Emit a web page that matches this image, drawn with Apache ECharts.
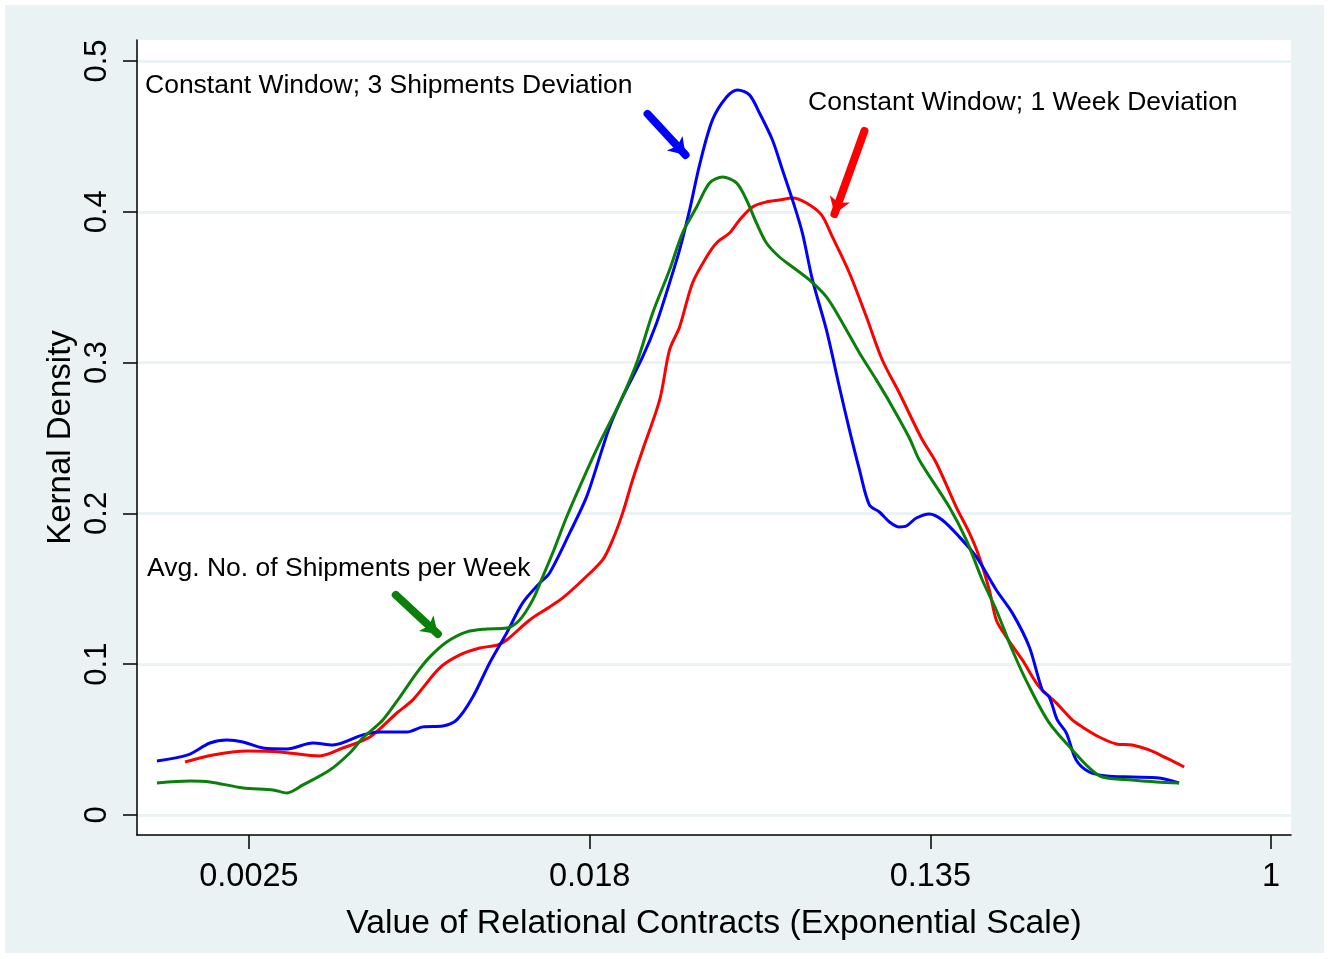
<!DOCTYPE html>
<html>
<head>
<meta charset="utf-8">
<script src="https://cdn.jsdelivr.net/npm/echarts@6/dist/echarts.min.js"></script>
<style>
  html, body { margin: 0; padding: 0; background: #ffffff; }
  #bg { position: absolute; left: 5px; top: 5px; width: 1319px; height: 948px; background: #eaf2f3; }
  #chart { position: absolute; left: 0; top: 0; width: 1329px; height: 959px; }
</style>
</head>
<body>
<div id="bg"></div>
<div id="chart"></div>
<script>
// x values are ln(value of relational contracts); y values are kernel density
const xTickPositions = [-6, -4, -2, 0];
const xTickLabels = ['0.0025', '0.018', '0.135', '1'];
const yTickValues = [0, 0.1, 0.2, 0.3, 0.4, 0.5];
const yTickLabels = ['0', '0.1', '0.2', '0.3', '0.4', '0.5'];

const seriesNames = ['Constant Window; 3 Shipments Deviation', 'Constant Window; 1 Week Deviation', 'Avg. No. of Shipments per Week'];

const blueX = [-6.540,-6.358,-6.229,-6.129,-6.035,-5.918,-5.777,-5.625,-5.507,-5.331,-5.232,-5.073,-4.979,-4.862,-4.780,-4.686,-4.587,-4.487,-4.393,-4.293,-4.235,-4.117,-4.018,-3.941,-3.883,-3.806,-3.689,-3.607,-3.531,-3.472,-3.413,-3.355,-3.279,-3.196,-3.132,-3.062,-3.003,-2.927,-2.868,-2.809,-2.751,-2.692,-2.610,-2.534,-2.475,-2.416,-2.358,-2.299,-2.240,-2.182,-2.141,-2.082,-2.006,-1.930,-1.830,-1.730,-1.613,-1.519,-1.419,-1.343,-1.302,-1.255,-1.202,-1.144,-1.067,-0.968,-0.815,-0.657,-0.540];
const blueY = [0.0358,0.0398,0.0477,0.0497,0.0484,0.0444,0.0438,0.0477,0.0464,0.0531,0.0550,0.0550,0.0584,0.0590,0.0630,0.0782,0.1008,0.1207,0.1406,0.1538,0.1605,0.1870,0.2109,0.2374,0.2573,0.2772,0.3037,0.3263,0.3528,0.3747,0.4012,0.4310,0.4609,0.4761,0.4808,0.4775,0.4655,0.4476,0.4277,0.4078,0.3859,0.3548,0.3216,0.2838,0.2553,0.2288,0.2056,0.2009,0.1943,0.1910,0.1916,0.1969,0.1996,0.1956,0.1844,0.1711,0.1492,0.1340,0.1114,0.0829,0.0782,0.0630,0.0544,0.0365,0.0285,0.0259,0.0252,0.0245,0.0212];

const redX = [-6.375,-6.211,-6.012,-5.818,-5.584,-5.449,-5.290,-5.132,-5.038,-4.880,-4.762,-4.645,-4.540,-4.487,-4.352,-4.235,-4.158,-4.041,-3.924,-3.865,-3.806,-3.748,-3.689,-3.589,-3.531,-3.472,-3.396,-3.314,-3.255,-3.179,-3.120,-3.044,-2.962,-2.886,-2.809,-2.727,-2.639,-2.575,-2.475,-2.375,-2.282,-2.182,-2.053,-1.965,-1.848,-1.771,-1.713,-1.654,-1.613,-1.554,-1.460,-1.361,-1.261,-1.167,-1.109,-1.009,-0.909,-0.815,-0.716,-0.616,-0.510];
const redY = [0.0351,0.0398,0.0424,0.0418,0.0391,0.0444,0.0517,0.0676,0.0763,0.0975,0.1061,0.1107,0.1127,0.1160,0.1293,0.1379,0.1439,0.1558,0.1691,0.1824,0.2003,0.2221,0.2420,0.2752,0.3084,0.3236,0.3528,0.3700,0.3793,0.3859,0.3946,0.4032,0.4065,0.4078,0.4091,0.4058,0.3979,0.3833,0.3594,0.3302,0.3017,0.2798,0.2500,0.2334,0.2042,0.1870,0.1711,0.1492,0.1293,0.1180,0.1028,0.0849,0.0743,0.0630,0.0584,0.0517,0.0471,0.0464,0.0431,0.0378,0.0318];

const greenX = [-6.540,-6.346,-6.229,-6.035,-5.859,-5.777,-5.683,-5.525,-5.408,-5.331,-5.214,-5.114,-5.015,-4.938,-4.839,-4.721,-4.604,-4.487,-4.411,-4.334,-4.276,-4.217,-4.135,-4.041,-3.941,-3.824,-3.724,-3.630,-3.531,-3.455,-3.372,-3.296,-3.220,-3.138,-3.079,-3.021,-2.962,-2.886,-2.809,-2.710,-2.610,-2.516,-2.416,-2.317,-2.223,-2.123,-2.065,-1.889,-1.789,-1.695,-1.613,-1.519,-1.419,-1.302,-1.167,-1.067,-0.991,-0.815,-0.674,-0.540];
const greenY = [0.0212,0.0225,0.0219,0.0179,0.0166,0.0146,0.0199,0.0298,0.0411,0.0511,0.0630,0.0782,0.0942,0.1048,0.1147,0.1214,0.1233,0.1240,0.1293,0.1426,0.1578,0.1737,0.1976,0.2221,0.2467,0.2732,0.2997,0.3329,0.3614,0.3859,0.4032,0.4191,0.4231,0.4191,0.4078,0.3926,0.3793,0.3700,0.3634,0.3548,0.3435,0.3263,0.3064,0.2885,0.2706,0.2500,0.2354,0.2042,0.1824,0.1558,0.1359,0.1094,0.0849,0.0610,0.0431,0.0312,0.0252,0.0232,0.0219,0.0212];

// annotation arrows (data coordinates: start -> tip)
const blueArrow = [[-3.660, 0.4649], [-3.437, 0.4377]];
const redArrow = [[-2.387, 0.4536], [-2.563, 0.3985]];
const greenArrow = [[-5.138, 0.1459], [-4.891, 0.1200]];

const zip = (xs, ys) => xs.map((x, i) => [x, ys[i]]);
const FONT = '"Liberation Sans", Arial, Helvetica, sans-serif';
const C_BLUE = '#0000ff', C_RED = '#ff0000', C_GREEN = '#0a800a';

const chart = echarts.init(document.getElementById('chart'), null, { renderer: 'canvas' });

function nearestLabel(v, pos, labels) {
  let best = 0;
  for (let i = 1; i < pos.length; i++) if (Math.abs(pos[i] - v) < Math.abs(pos[best] - v)) best = i;
  return labels[best];
}

const option = {
  backgroundColor: 'transparent',
  animation: false,
  grid: {
    left: 137, top: 40, right: 38, bottom: 124,
    show: true, backgroundColor: '#ffffff', borderWidth: 0
  },
  xAxis: {
    type: 'value',
    min: -6.657, max: 0.117,
    name: 'Value of Relational Contracts (Exponential Scale)',
    nameLocation: 'middle', nameGap: 72,
    nameTextStyle: { fontFamily: FONT, fontSize: 33.7, color: '#000' },
    axisLine: { show: true, onZero: false, lineStyle: { color: '#000', width: 1.5 } },
    axisTick: { show: true, length: 14, customValues: xTickPositions, lineStyle: { color: '#000', width: 1.5 } },
    axisLabel: {
      customValues: xTickPositions, margin: 26, fontFamily: FONT, fontSize: 32.5, color: '#000',
      formatter: v => nearestLabel(v, xTickPositions, xTickLabels)
    },
    splitLine: { show: false }
  },
  yAxis: {
    type: 'value',
    min: -0.0133, max: 0.5139,
    name: 'Kernal Density',
    nameLocation: 'middle', nameGap: 60, nameRotate: 90, nameMoveOverlap: false,
    nameTextStyle: { fontFamily: FONT, fontSize: 33, color: '#000' },
    axisLine: { show: true, onZero: false, lineStyle: { color: '#000', width: 1.5 } },
    axisTick: { show: true, length: 14, customValues: yTickValues, lineStyle: { color: '#000', width: 1.5 } },
    axisLabel: {
      customValues: yTickValues, rotate: 90, margin: 24, fontFamily: FONT, fontSize: 31, color: '#000',
      formatter: v => nearestLabel(v, yTickValues, yTickLabels)
    },
    splitLine: { show: true, lineStyle: { color: '#eaf2f3', width: 3 } }
  },
  series: [
    { name: seriesNames[0], type: 'line', data: zip(blueX, blueY), showSymbol: false, smooth: 0.3,
      lineStyle: { color: C_BLUE, width: 3 }, z: 4 },
    { name: seriesNames[1], type: 'line', data: zip(redX, redY), showSymbol: false, smooth: 0.3,
      lineStyle: { color: C_RED, width: 3 }, z: 3 },
    { name: seriesNames[2], type: 'line', data: zip(greenX, greenY), showSymbol: false, smooth: 0.3,
      lineStyle: { color: C_GREEN, width: 3 }, z: 5 },
    { type: 'lines', coordinateSystem: 'cartesian2d', symbol: ['none', 'arrow'], symbolSize: 16, z: 6,
      lineStyle: { width: 8, cap: 'round', opacity: 1 },
      data: [
        { coords: blueArrow, lineStyle: { color: C_BLUE } },
        { coords: redArrow, lineStyle: { color: C_RED } },
        { coords: greenArrow, lineStyle: { color: C_GREEN } }
      ]
    }
  ],
  graphic: [
    { type: 'text', x: 145, y: 86, style: { text: seriesNames[0], font: '26.5px ' + FONT, fill: '#000', verticalAlign: 'middle' } },
    { type: 'text', x: 808, y: 103, style: { text: seriesNames[1], font: '26.5px ' + FONT, fill: '#000', verticalAlign: 'middle' } },
    { type: 'text', x: 147, y: 569, style: { text: seriesNames[2], font: '26.5px ' + FONT, fill: '#000', verticalAlign: 'middle' } }
  ]
};
chart.setOption(option);
</script>
</body>
</html>
